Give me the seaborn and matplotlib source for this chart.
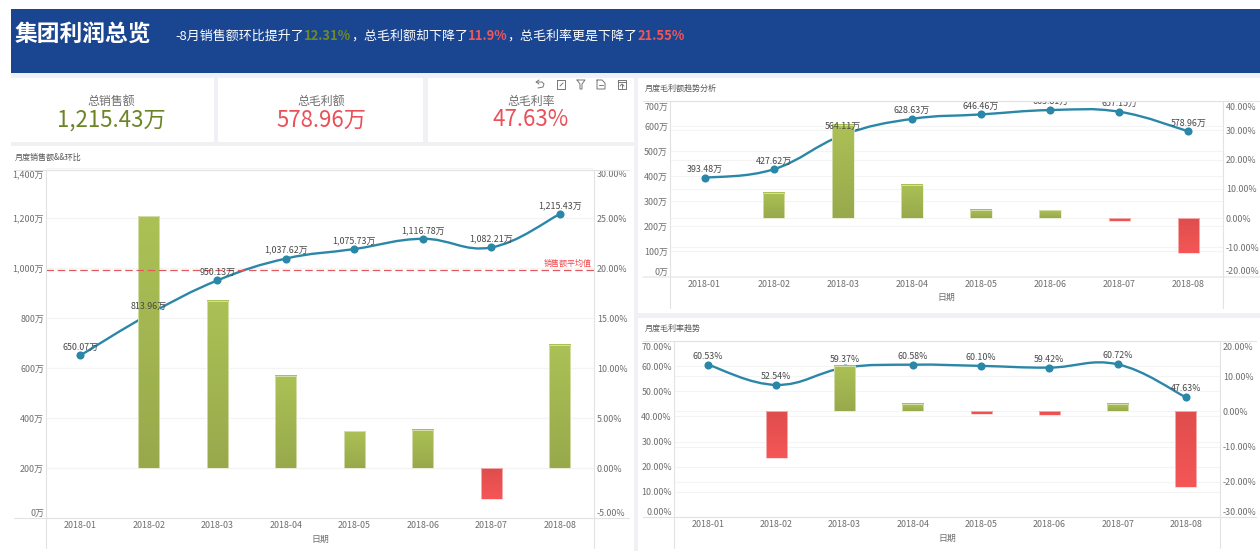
import numpy as np
import pandas as pd
import matplotlib
matplotlib.use("Agg")
import matplotlib.pyplot as plt
import seaborn as sns
from matplotlib.colors import LinearSegmentedColormap
from matplotlib.lines import Line2D
from matplotlib.patches import PathPatch, Rectangle
from matplotlib.path import Path
from matplotlib.transforms import ScaledTranslation

months = ["2018-01", "2018-02", "2018-03", "2018-04", "2018-05", "2018-06", "2018-07", "2018-08"]

sales = [650.07, 813.96, 950.13, 1037.62, 1075.73, 1116.78, 1082.21, 1215.43]
sales_pct = [np.nan, 25.2, 16.73, 9.21, 3.67, 3.82, -3.1, 12.31]
sales_avg = 992.74
sales_ticks = [0, 200, 400, 600, 800, 1000, 1200, 1400]
sales_pct_ticks = [-5, 0, 5, 10, 15, 20, 25, 30]

profit = [393.48, 427.62, 564.11, 628.63, 646.46, 663.81, 657.15, 578.96]
profit_pct = [np.nan, 8.68, 31.9, 11.44, 2.84, 2.68, -1.0, -11.9]
profit_ticks = [0, 100, 200, 300, 400, 500, 600, 700]
profit_pct_ticks = [-20, -10, 0, 10, 20, 30, 40]

rate = [60.53, 52.54, 59.37, 60.58, 60.10, 59.42, 60.72, 47.63]
rate_pct = [np.nan, -13.2, 13.0, 2.04, -0.79, -1.13, 2.19, -21.55]
rate_ticks = [0, 10, 20, 30, 40, 50, 60, 70]
rate_pct_ticks = [-30, -20, -10, 0, 10, 20]

W, H = 1260, 551
BLUE = "#1a4590"
PAGE = "#f0f1f5"
LINE = "#2b87a8"
GREEN = "#6b8424"
RED = "#ea5058"
GRAY = "#6e6e6e"
GRID = "#f4f4f4"

sns.set_theme(style="white")
plt.rcParams["font.family"] = ["Noto Sans CJK SC", "DejaVu Sans"]
plt.rcParams["axes.unicode_minus"] = False

green_map = LinearSegmentedColormap.from_list("g", ["#98a94c", "#abc155"])
red_map = LinearSegmentedColormap.from_list("r", ["#f55656", "#df4d4d"])
ramp = np.linspace(0, 1, 64).reshape(-1, 1)

fig = plt.figure(figsize=(W / 100, H / 100), dpi=100, facecolor="white")


def fx(x):
    return x / W


def fy(y):
    return 1 - y / H


def block(x0, y0, x1, y1, color):
    fig.add_artist(Rectangle((fx(x0), fy(y1)), (x1 - x0) / W, (y1 - y0) / H, transform=fig.transFigure,
                             facecolor=color, edgecolor="none", zorder=-5))


def rule(x0, y0, x1, y1, color="#e2e2e2", lw=0.8):
    fig.add_artist(Line2D([fx(x0), fx(x1)], [fy(y0), fy(y1)], color=color, lw=lw, zorder=5))


def stroke(points, color="#777777", lw=0.7):
    fig.add_artist(Line2D([fx(p[0]) for p in points], [fy(p[1]) for p in points], color=color, lw=lw, zorder=5))


def put(x, y, s, size, color=GRAY, ha="center", weight="normal"):
    return fig.text(fx(x), fy(y), s, fontsize=size, color=color, ha=ha, va="center", fontweight=weight)


def smooth_path(xs, ys, k=0.2):
    # same idea as the smooth line of the web chart: bezier through every point
    verts = [(xs[0], ys[0])]
    codes = [Path.MOVETO]
    n = len(xs)
    for i in range(n - 1):
        prev = max(i - 1, 0)
        nxt = min(i + 2, n - 1)
        c1 = (xs[i] + k * (xs[i + 1] - xs[prev]), ys[i] + k * (ys[i + 1] - ys[prev]))
        c2 = (xs[i + 1] - k * (xs[nxt] - xs[i]), ys[i + 1] - k * (ys[nxt] - ys[i]))
        verts += [c1, c2, (xs[i + 1], ys[i + 1])]
        codes += [Path.CURVE4, Path.CURVE4, Path.CURVE4]
    return Path(verts, codes)


def combo(box, title, title_y, values, pct, ticks, pct_ticks, fmt_left, fmt_tick, bar_w=0.31):
    left, top, right, bottom = box
    ax = fig.add_axes([fx(left), fy(bottom), (right - left) / W, (bottom - top) / H])
    ax.patch.set_alpha(0)

    df = pd.DataFrame({"month": months, "value": values, "pct": pct})
    sns.scatterplot(data=df, x="month", y="value", ax=ax, color=LINE, s=34, linewidth=0, zorder=3)
    xs = list(range(len(months)))
    ax.add_patch(PathPatch(smooth_path(xs, values), facecolor="none", edgecolor=LINE, lw=1.7, zorder=2))

    ax2 = ax.twinx()
    ax2.patch.set_alpha(0)
    sns.barplot(data=df, x="month", y="pct", order=months, ax=ax2, width=bar_w, color="#abc155")
    for bar in ax2.patches:
        h = bar.get_height()
        if np.isnan(h) or h == 0:
            continue
        x0, w = bar.get_x(), bar.get_width()
        cmap = green_map if h > 0 else red_map
        ax2.imshow(ramp, extent=[x0, x0 + w, min(0, h), max(0, h)], origin="lower",
                   cmap=cmap, aspect="auto", zorder=2.5)
        bar.set_facecolor("none")
        bar.set_edgecolor("#e6eacb" if h > 0 else "#fbd0d0")
        bar.set_linewidth(0.5)
        bar.set_zorder(2.6)

    for i, v in enumerate(values):
        ax2.annotate(fmt_left(v), xy=(i, v), xycoords=ax.transData, xytext=(0, 6), textcoords="offset points",
                     ha="center", va="center", fontsize=6.4, color="#484848", clip_on=True, zorder=6)

    ax.set_ylim(ticks[0], ticks[-1])
    ax.set_yticks(ticks)
    ax.set_yticklabels([fmt_tick(t) for t in ticks])
    ax2.set_ylim(pct_ticks[0], pct_ticks[-1])
    ax2.set_yticks(pct_ticks)
    ax2.set_yticklabels([f"{t:.2f}%" for t in pct_ticks])
    ax.set_xlim(-0.5, 7.5)
    ax.set_xticks(xs)
    ax.set_xticklabels(months)

    # both grids stay under the line, so the right axis grid is drawn on the left axes
    ax.grid(axis="y", color=GRID, lw=0.8)
    ax.set_axisbelow(True)
    ax2.grid(False)
    for t in pct_ticks:
        frac = (t - pct_ticks[0]) / (pct_ticks[-1] - pct_ticks[0])
        ax.axhline(ticks[0] + frac * (ticks[-1] - ticks[0]), color=GRID, lw=0.8, zorder=0.5)

    for a in (ax, ax2):
        a.set_ylabel("")
        for sp in a.spines.values():
            sp.set_visible(False)
    ax.tick_params(axis="y", length=0, pad=1.5, labelsize=6.4, labelcolor=GRAY)
    ax2.tick_params(axis="y", length=0, pad=2, labelsize=6.4, labelcolor=GRAY)
    ax.tick_params(axis="x", length=0, pad=2.5, labelsize=6.4, labelcolor=GRAY)
    nudge = ScaledTranslation(0, -2 / 100, fig.dpi_scale_trans)
    for a in (ax, ax2):
        labs = a.get_yticklabels()
        labs[0].set_va("bottom")
        labs[-1].set_va("top")
        labs[-1].set_transform(labs[-1].get_transform() + nudge)
    ax.set_xlabel("日期", fontsize=6.4, color=GRAY, labelpad=3)

    put(15 if left < 100 else 645, title_y, title, 5.8, color="#555555", ha="left")
    return ax, ax2


# page background
block(11, 73, W, H, PAGE)
block(11, 9, W, 73, BLUE)
for x0, x1 in [(11, 214), (218, 423), (428, 634)]:
    block(x0, 78, x1, 142, "white")
block(11, 146, 634, H, "white")
block(638, 78, W, 313, "white")
block(638, 318, W, H, "white")

# header
put(15, 34, "集团利润总览", 16.4, color="white", ha="left", weight="bold")
parts = [("-8月销售额环比提升了", "white", "normal"), ("12.31%", "#6f8a24", "bold"),
         ("，总毛利额却下降了", "white", "normal"), ("11.9%", "#f0565a", "bold"),
         ("，总毛利率更是下降了", "white", "normal"), ("21.55%", "#f0565a", "bold")]
x_now = 175
rend = fig.canvas.get_renderer()
for s, c, wt in parts:
    t = put(x_now, 36.5, s, 9.35, color=c, ha="left", weight=wt)
    x_now += t.get_window_extent(rend).width

# kpi cards
for cx, name, val, col in [(111, "总销售额", "1,215.43万", GREEN), (321, "总毛利额", "578.96万", RED),
                           (531, "总毛利率", "47.63%", RED)]:
    put(cx, 101, name, 8.6, color=GRAY)
    put(cx, 120, val, 16, color=col)

# toolbar icons above the third card
ic = np.array([540, 561, 581, 601, 622])
stroke([(ic[0] - 3, 82), (ic[0] + 2, 82), (ic[0] + 4, 84), (ic[0] + 3, 87), (ic[0] - 2, 88)])
stroke([(ic[0] - 1, 80), (ic[0] - 4, 82), (ic[0] - 1, 84)])
stroke([(ic[1] - 4, 80), (ic[1] + 4, 80), (ic[1] + 4, 89), (ic[1] - 4, 89), (ic[1] - 4, 80)])
stroke([(ic[1] - 1, 86), (ic[1] + 2, 83)])
stroke([(ic[2] - 4, 80), (ic[2] + 4, 80), (ic[2] + 1, 84), (ic[2] + 1, 89), (ic[2] - 1, 89), (ic[2] - 1, 84), (ic[2] - 4, 80)])
stroke([(ic[3] - 4, 80), (ic[3] + 1, 80), (ic[3] + 4, 83), (ic[3] + 4, 89), (ic[3] - 4, 89), (ic[3] - 4, 80)])
stroke([(ic[3] - 2, 85), (ic[3] + 2, 85)])
stroke([(ic[4] - 4, 80), (ic[4] + 4, 80), (ic[4] + 4, 89), (ic[4] - 4, 89), (ic[4] - 4, 80)])
stroke([(ic[4] - 4, 82), (ic[4] + 4, 82)])
stroke([(ic[4], 88), (ic[4], 84)])
stroke([(ic[4] - 2, 86), (ic[4], 84), (ic[4] + 2, 86)])

# charts
money = lambda v: f"{v:,.2f}万"
percent = lambda v: f"{v:.2f}%"
money_tick = lambda t: f"{t:,}万"
percent_tick = lambda t: f"{t:.2f}%"

ax1, ax1b = combo((46, 168, 594, 518), "月度销售额&&环比", 157, sales, sales_pct, sales_ticks, sales_pct_ticks,
                  money, money_tick)
ax1b.plot([-0.5, 7.5], [sales_avg, sales_avg], transform=ax1.transData, color="#e2585c", lw=0.9, ls=(0, (6, 3)), zorder=4)
ax1b.text(7.47, sales_avg + 6, "销售额平均值", transform=ax1.transData, ha="right", va="bottom", fontsize=5.8, color="#f0484c", zorder=6)
ax1b.set_ylim(sales_pct_ticks[0], sales_pct_ticks[-1])
ax1.set_xlim(-0.5, 7.5)
rule(14, 170, 629, 170)
rule(14, 518, 629, 518)
rule(46, 170, 46, 548)
rule(594, 170, 594, 548)

combo((670, 101, 1223, 276.5), "月度毛利额趋势分析", 88, profit, profit_pct, profit_ticks, profit_pct_ticks,
      money, money_tick)
rule(643, 101, 1259, 101)
rule(643, 277, 1259, 277, lw=1.2, color="#ececec")
rule(670, 101, 670, 308)
rule(1223, 101, 1223, 308)

combo((674, 341, 1220, 517), "月度毛利率趋势", 328, rate, rate_pct, rate_ticks, rate_pct_ticks,
      percent, percent_tick)
rule(643, 341, 1256, 341)
rule(643, 517, 1256, 517)
rule(674, 341, 674, 548)
rule(1220, 341, 1220, 548)

fig.savefig("out.png", dpi=100)
